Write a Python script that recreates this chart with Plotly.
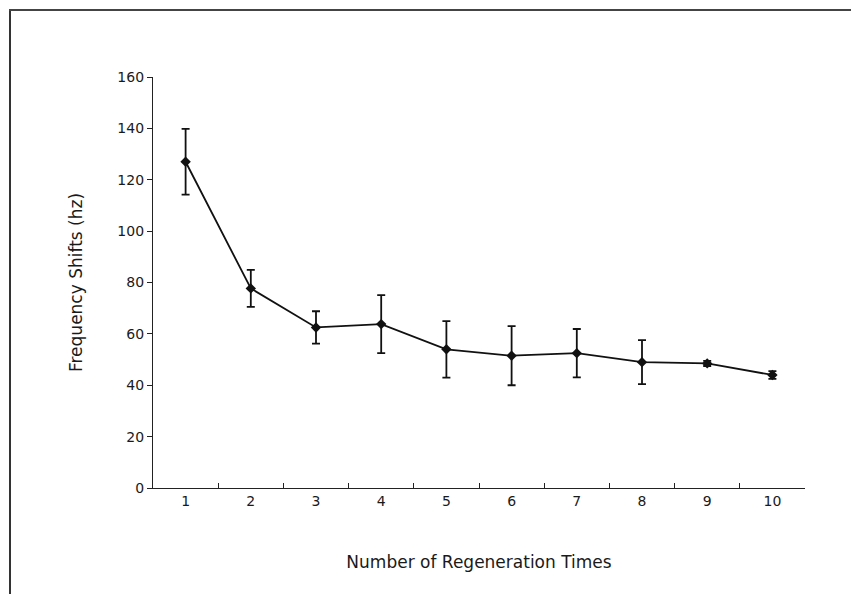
import plotly.graph_objects as go

categories = ["1", "2", "3", "4", "5", "6", "7", "8", "9", "10"]
freq_shift = [127, 77.7, 62.5, 63.8, 54, 51.5, 52.5, 49, 48.5, 44]
error = [12.8, 7.2, 6.3, 11.3, 11, 11.5, 9.4, 8.6, 1.0, 1.5]

OFF = 8  # page body margin
W, H = 859 - OFF, 594 - OFF
# target plot area in page pixels
L, R, T, B = 153, 805, 77, 488

fig = go.Figure()
fig.add_trace(go.Scatter(
    x=categories, y=freq_shift,
    mode="lines+markers",
    line=dict(color="#111111", width=1.8),
    marker=dict(symbol="diamond", size=8, color="#111111"),
    error_y=dict(type="data", array=error, visible=True, color="#111111", thickness=1.8, width=4),
    showlegend=False,
))

def px_to_paper_x(px):
    return (px - L) / (R - L)

def px_to_paper_y(py):
    return (B - py) / (B - T)

shapes = [
    dict(type="line", xref="paper", yref="paper",
         x0=px_to_paper_x(10), x1=px_to_paper_x(10),
         y0=px_to_paper_y(10), y1=px_to_paper_y(600),
         line=dict(color="#333333", width=2)),
    dict(type="line", xref="paper", yref="paper",
         x0=px_to_paper_x(9), x1=px_to_paper_x(870),
         y0=px_to_paper_y(10), y1=px_to_paper_y(10),
         line=dict(color="#444444", width=2)),
]

fig.update_layout(
    width=W, height=H,
    margin=dict(l=L - OFF, r=W + OFF - R, t=T - OFF, b=H + OFF - B),
    paper_bgcolor="white", plot_bgcolor="white",
    font=dict(family="DejaVu Sans, Verdana, sans-serif", color="#1a1a1a", size=14),
    shapes=shapes,
    xaxis=dict(
        type="category", tickson="boundaries", ticks="inside", ticklen=5,
        tickcolor="#222222", showline=True, linecolor="#222222", linewidth=1.2,
        showgrid=False, zeroline=False, range=[-0.5, 9.5],
        tickfont=dict(size=14),
        title=dict(text="Number of Regeneration Times", font=dict(size=17), standoff=48),
    ),
    yaxis=dict(
        range=[0, 160], tickvals=[0, 20, 40, 60, 80, 100, 120, 140, 160],
        ticks="outside", ticklen=5, tickcolor="#222222",
        showline=True, linecolor="#222222", linewidth=1.2,
        showgrid=False, zeroline=False,
        tickfont=dict(size=14),
        title=dict(text="Frequency Shifts (hz)", font=dict(size=17), standoff=30),
    ),
)

fig.write_html("out.html")
